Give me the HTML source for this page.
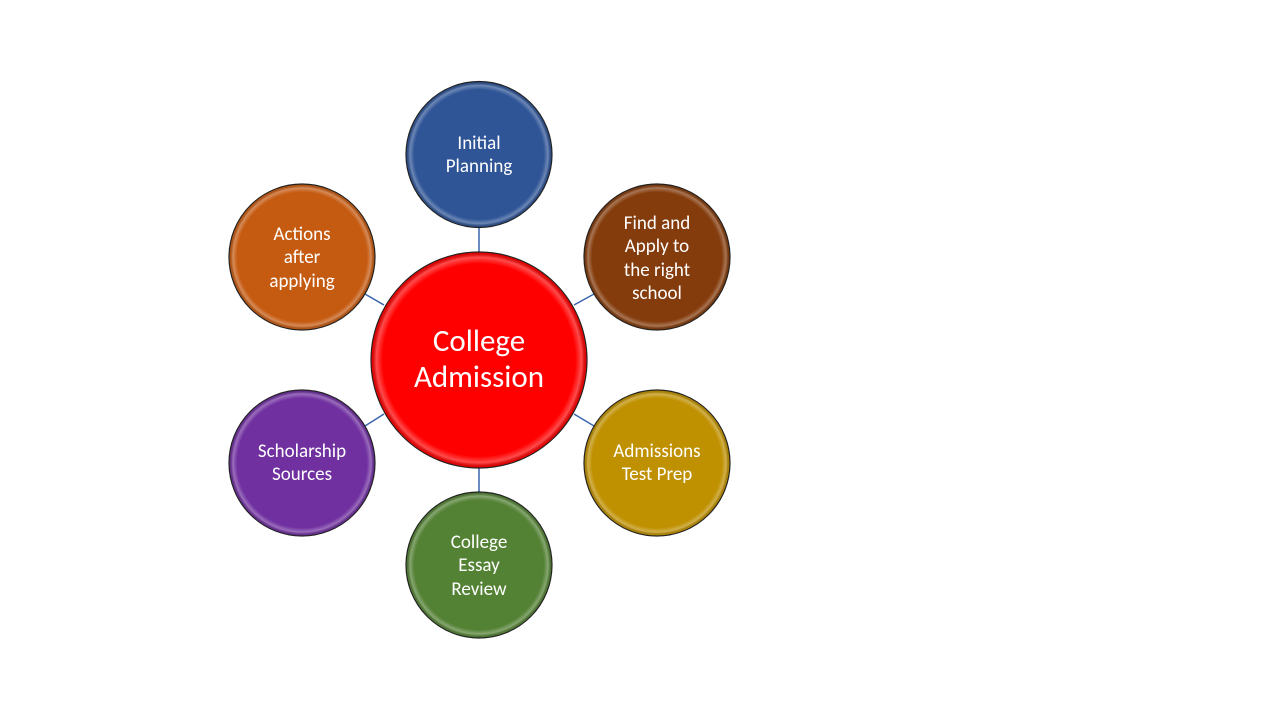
<!DOCTYPE html>
<html><head><meta charset="utf-8"><style>
html,body{margin:0;padding:0;background:#fff;width:1280px;height:720px;overflow:hidden}
text{font-family:Calibri,"Liberation Sans",sans-serif;fill:#fff;text-anchor:middle}
</style></head><body>
<svg width="1280" height="720" viewBox="0 0 1280 720">
<defs>
<radialGradient id="hl" cx="50%" cy="50%" r="50%">
<stop offset="0.9" stop-color="#fff" stop-opacity="0"/>
<stop offset="0.96" stop-color="#fff" stop-opacity="0.3"/>
<stop offset="1" stop-color="#000" stop-opacity="0.15"/>
</radialGradient>
</defs>
<g stroke="#3B64AD" stroke-width="1.5">
<line x1="479" y1="227" x2="479" y2="252"/>
<line x1="574" y1="305" x2="594" y2="294"/>
<line x1="574" y1="414" x2="594" y2="426"/>
<line x1="479" y1="468" x2="479" y2="492"/>
<line x1="384" y1="414" x2="365" y2="426"/>
<line x1="384" y1="305" x2="365" y2="294"/>
</g>
<g stroke="#222" stroke-width="1.2">
<circle cx="479" cy="360" r="108" fill="#FF0000"/>
<circle cx="479" cy="154.5" r="73" fill="#2F5597"/>
<circle cx="657" cy="257" r="73" fill="#843C0C"/>
<circle cx="657" cy="463" r="73" fill="#BF9000"/>
<circle cx="479" cy="565" r="73" fill="#548235"/>
<circle cx="302" cy="463" r="73" fill="#7030A0"/>
<circle cx="302" cy="257" r="73" fill="#C55A11"/>
</g>
<g fill="url(#hl)">
<circle cx="479" cy="360" r="107"/>
<circle cx="479" cy="154.5" r="72"/>
<circle cx="657" cy="257" r="72"/>
<circle cx="657" cy="463" r="72"/>
<circle cx="479" cy="565" r="72"/>
<circle cx="302" cy="463" r="72"/>
<circle cx="302" cy="257" r="72"/>
</g>
<text x="479" y="351" font-size="31">College</text>
<text x="479" y="387" font-size="31">Admission</text>
<g font-size="19">
<text x="479" y="149">Initial</text>
<text x="479" y="172">Planning</text>
<text x="657" y="229">Find and</text>
<text x="657" y="252">Apply to</text>
<text x="657" y="276">the right</text>
<text x="657" y="299">school</text>
<text x="657" y="457">Admissions</text>
<text x="657" y="480">Test Prep</text>
<text x="479" y="548">College</text>
<text x="479" y="571">Essay</text>
<text x="479" y="595">Review</text>
<text x="302" y="457">Scholarship</text>
<text x="302" y="480">Sources</text>
<text x="302" y="240">Actions</text>
<text x="302" y="263">after</text>
<text x="302" y="287">applying</text>
</g>
</svg>
</body></html>
